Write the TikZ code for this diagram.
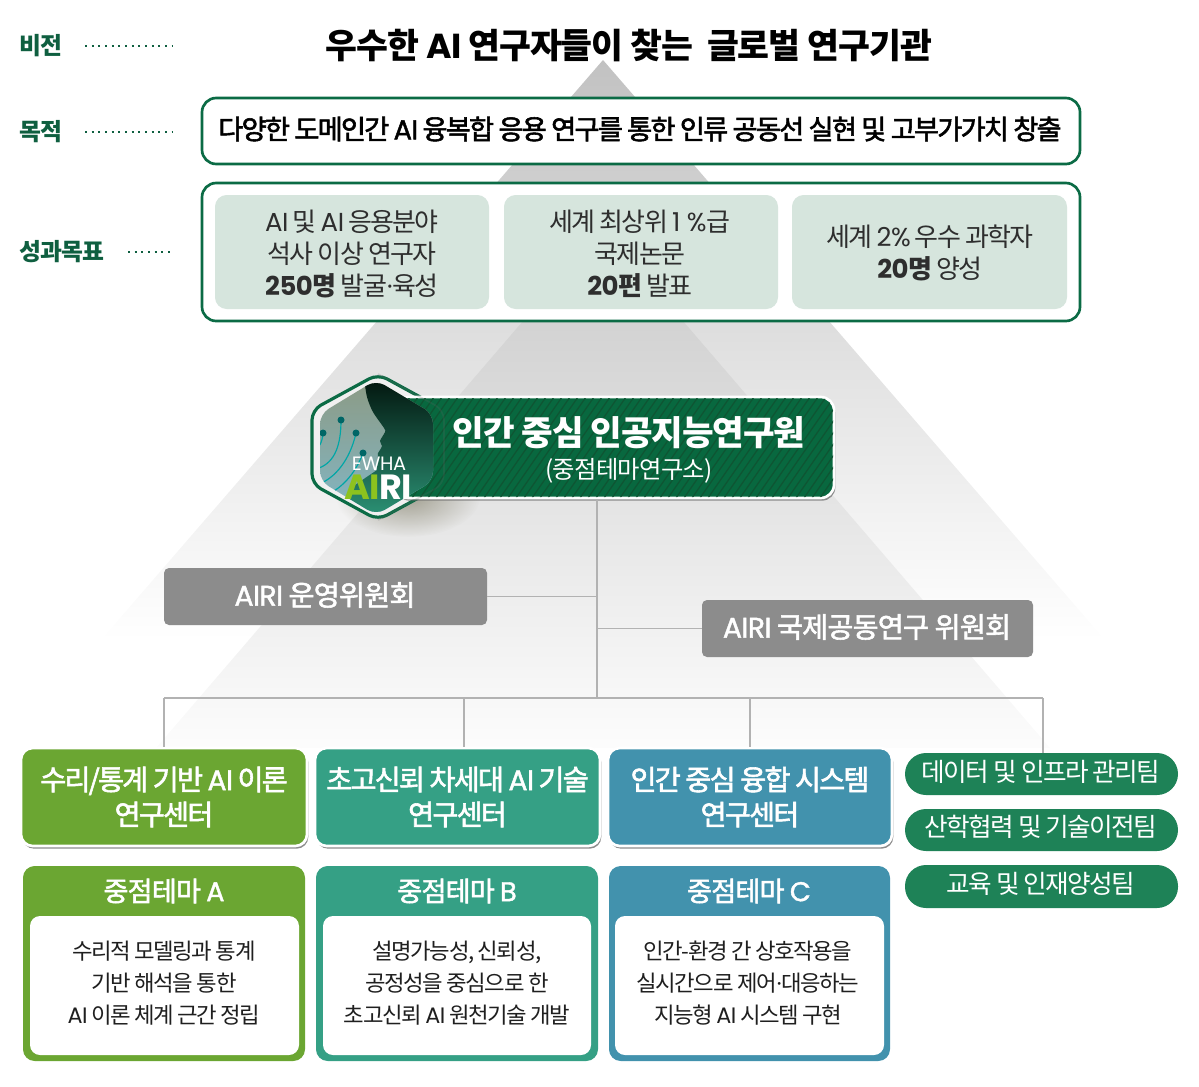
\documentclass[tikz,border=0pt]{standalone}
\usepackage{fontspec}
\usetikzlibrary{shadows,fadings,calc}
\setmainfont{Noto Sans CJK KR}[LetterSpace=-3]
\newfontfamily\tg{Noto Sans CJK KR}[LetterSpace=-6.5]
\newfontfamily\med{Noto Sans CJK KR}[FakeBold=2,LetterSpace=-3]
\newfontfamily\medt{Noto Sans CJK KR}[FakeBold=2,LetterSpace=-6.5]
\newfontfamily\lat{Poppins}[LetterSpace=-2]
\newfontfamily\latm{Poppins}[FakeBold=1.5,LetterSpace=-2]
\newcommand{\LL}[1]{{\lat #1}}
\newcommand{\LM}[1]{{\latm #1}}
\newcommand{\fs}[2]{\fontsize{#1pt}{#2pt}\selectfont}
\definecolor{airi}{HTML}{0B6B45}
\definecolor{bannerc}{HTML}{08683F}
\definecolor{hatchc}{HTML}{0F5533}
\definecolor{cardc}{HTML}{D6E5DD}
\definecolor{greyc}{HTML}{8C8C8C}
\definecolor{linec}{HTML}{B2B2B2}
\definecolor{pillc}{HTML}{1E8257}
\definecolor{ca}{HTML}{6BA632}
\definecolor{cb}{HTML}{35A085}
\definecolor{cc}{HTML}{4292AD}
\definecolor{labelc}{HTML}{0F5F40}
\definecolor{logotop}{HTML}{8C9A84}
\definecolor{logobot}{HTML}{82B7C6}
\definecolor{logogreen}{HTML}{8DC21F}
\tikzfading[name=softc,inner color=transparent!25,outer color=transparent!100]
\newcommand{\bx}[7]{%
  \pgfmathsetmacro\bxx{(#2+#4)/2}\pgfmathsetmacro\bxy{(#3+#5)/2}%
  \pgfmathsetmacro\bxw{(#4-#2)*0.6}\pgfmathsetmacro\bxh{(#5-#3)*0.6}%
  \node[#6,minimum width=\bxw pt,minimum height=\bxh pt,inner sep=0pt,align=center] (#1) at (\bxx,\bxy) {#7};}
\tikzset{
  goalbox/.style={draw=airi,line width=1.6pt,fill=white,rounded corners=8.5pt},
  card/.style={fill=cardc,rounded corners=7pt},
  cardtext/.style={text=black!82,align=center,inner sep=0pt,font=\tg\fs{15.6}{19.2}},
  sidelabel/.style={text=labelc,font=\bfseries\fs{14.3}{16}},
  dotline/.style={draw=labelc,line width=1.2pt,dash pattern=on 1.2pt off 2.8pt},
  greybox/.style={fill=greyc,rounded corners=3pt},
  greytext/.style={text=white,inner sep=0pt,font=\med\fs{17}{20}},
  wire/.style={draw=linec,line width=0.9pt},
  centerbox/.style={rounded corners=7pt,draw=white,line width=1.6pt,text=white,font=\medt\fs{17}{21},
     drop shadow={shadow xshift=0.8pt,shadow yshift=-1.6pt,fill=black!60,opacity=.75}},
  theme/.style={rounded corners=7pt},
  themebody/.style={fill=white,rounded corners=6pt},
  bodytext/.style={text=black!88,align=center,inner sep=0pt,font=\tg\fs{13.4}{19.2}},
  themehead/.style={text=white,font=\med\fs{16.3}{20}},
  pill/.style={fill=pillc,rounded corners=12.6pt},
  pilltext/.style={text=white,inner sep=0pt,font=\tg\fs{15.4}{19}},
}
\begin{document}
\begin{tikzpicture}[x=0.6pt,y=-0.6pt]
\useasboundingbox (0,0) rectangle (1199,1087);
% pyramids
\shade[top color=black!24,middle color=black!7,bottom color=white] (603,60) -- (1105,640) -- (101,640) -- cycle;
\shade[top color=black!21,middle color=black!7,bottom color=black!1] (603,228) -- (1050,748) -- (156,748) -- cycle;
% vision etc
\node[text=black,font=\bfseries\fs{20.8}{24}] (vision) at (629,46) {우수한 \LL{AI} 연구자들이 찾는~ 글로벌 연구기관};
\node[sidelabel] (l1) at (41,46) {비전};
\node[sidelabel] (l2) at (41,132) {목적};
\node[sidelabel] (l3) at (62,252) {성과목표};
\coordinate (e1) at (172,46);\coordinate (e2) at (172,132);\coordinate (e3) at (172,252);
\coordinate (s1) at (85,46);\coordinate (s2) at (85,132);\coordinate (s3) at (128,252);
\draw[dotline] (s1) -- (e1);
\draw[dotline] (s2) -- (e2);
\draw[dotline] (s3) -- (e3);
\bx{purpose}{202}{98}{1080}{164}{goalbox}{}
\node[text=black,inner sep=0pt,font=\medt\fs{16.35}{20}] (purposet) at (640,129) {다양한 도메인간 \LM{AI} 융복합 응용 연구를 통한 인류 공동선 실현 및 고부가가치 창출};
\bx{kpi}{202}{183}{1080}{321}{goalbox}{}
\bx{k1}{215}{195}{489}{309}{card}{}
\bx{k2}{504}{195}{778}{309}{card}{}
\bx{k3}{792}{195}{1067}{309}{card}{}
\node[cardtext] (k1t) at (352,254) {\LL{AI} 및 \LL{AI} 응용분야\\석사 이상 연구자\\{\bfseries\lat 250\rmfamily\bfseries 명} 발굴{\lat ·}육성};
\node[cardtext] (k2t) at (640,254) {세계 최상위 \LL{1 \%}급\\국제논문\\{\bfseries\lat 20\rmfamily\bfseries 편} 발표};
\node[cardtext] (k3t) at (930,253) {세계 \LL{2\%} 우수 과학자\\{\bfseries\lat 20\rmfamily\bfseries 명} 양성};
% connectors
\coordinate (bus) at (597,698);
\coordinate (busa) at (164,698);
\coordinate (busb) at (464,698);
\coordinate (busc) at (750,698);
\coordinate (busd) at (1043,698);
\bx{opc}{164}{568}{487}{625}{greybox}{}
\bx{intl}{702}{600}{1033}{657}{greybox}{}
\node[greytext] (opct) at (325,595) {\LM{AIRI} 운영위원회};
\node[greytext] (intlt) at (867,627) {\LM{AIRI} 국제공동연구 위원회};
\bx{pa}{905}{753}{1178}{795}{pill}{}
\bx{pb}{905}{809}{1178}{851}{pill}{}
\bx{pc}{905}{865}{1178}{908}{pill}{}
\node[pilltext] (pat) at (1041,772) {데이터 및 인프라 관리팀};
\node[pilltext] (pbt) at (1041,827) {산학협력 및 기술이전팀};
\node[pilltext] (pct) at (1041,884) {교육 및 인재양성팀};
\bx{ba}{21}{748}{307}{846}{centerbox,fill=ca}{수리/통계 기반 \LM{AI} 이론\\연구센터}
\bx{bb}{315}{748}{600}{846}{centerbox,fill=cb}{초고신뢰 차세대 \LM{AI} 기술\\연구센터}
\bx{bc}{608}{748}{892}{846}{centerbox,fill=cc}{인간 중심 융합 시스템\\연구센터}
\draw[wire] (busa) -- (busd);
\draw[wire] (bus) -- (bus|-intl.west) -- (intl.west);
\draw[wire] (opc.east) -- (opc.east-|bus);
\draw[wire] (busa) -- (busa|-ba.north);
\draw[wire] (busb) -- (busb|-bb.north);
\draw[wire] (busc) -- (busc|-bc.north);
\draw[wire] (busd) -- (busd|-pa.north);
% themes
\bx{ta}{23}{866}{305}{1061}{theme,fill=ca}{}
\bx{tb}{316}{866}{598}{1061}{theme,fill=cb}{}
\bx{tc}{609}{866}{890}{1061}{theme,fill=cc}{}
\node[themehead] (tah) at (164,891) {중점테마 \LM{A}};
\node[themehead] (tbh) at (457,891) {중점테마 \LM{B}};
\node[themehead] (tch) at (749,891) {중점테마 \LM{C}};
\bx{tab}{30}{916}{299}{1055}{themebody}{}
\bx{tbb}{323}{916}{591}{1055}{themebody}{}
\bx{tcb}{615}{916}{884}{1055}{themebody}{}
\node[bodytext] (tabt) at (164,983) {수리적 모델링과 통계\\기반 해석을 통한\\\LL{AI} 이론 체계 근간 정립};
\node[bodytext] (tbbt) at (457,983) {설명가능성, 신뢰성,\\공정성을 중심으로 한\\초고신뢰 \LL{AI} 원천기술 개발};
\node[bodytext] (tcbt) at (748,983) {인간-환경 간 상호작용을\\실시간으로 제어{\lat ·}대응하는\\지능형 \LL{AI} 시스템 구현};
% logo shadow
\fill[black!55!olive,opacity=.6,path fading=softc] (408,497) ellipse (72 and 40);
% logo ring
\draw[draw=airi,line width=1.9pt,fill=white!94!black,rounded corners=6pt] (378,374) -- (444,410) -- (444,484) -- (378,520) -- (312,484) -- (312,410) -- cycle;
% banner
\bx{banner}{395}{397}{834}{498}{rounded corners=8pt,draw=white,line width=1.6pt,fill=bannerc,drop shadow={shadow xshift=0.8pt,shadow yshift=-1.6pt,fill=black!60,opacity=.7}}{}
\draw[wire] (bus|-banner.south) -- (bus);
\begin{scope}
\clip[rounded corners=7.5pt] (396,398) rectangle (833,497);
\foreach \i in {340,348,...,840}{\draw[hatchc,line width=0.75pt] (\i,498) -- ($(\i,498)+(70,-101)$);}
\end{scope}
\draw[draw=black!60,opacity=.2,line width=1pt,rounded corners=6pt] (378,374) -- (444,410) -- (444,484) -- (378,520);
\node[text=white,font=\bfseries\fs{20.6}{24}] (bt) at (629,433) {인간 중심 인공지능연구원};
\node[text=white,font=\fs{14.6}{18}] (bs) at (629,471) {(중점테마연구소)};
% logo image
\begin{scope}
\clip[rounded corners=6pt] (376,380) -- (433,414) -- (433,481) -- (376,515) -- (320,481) -- (320,414) -- cycle;
\shade[top color=logotop,bottom color=logobot] (315,378) rectangle (440,518);
\shade[top color=black!80!airi,middle color=airi!85!black,bottom color=cb!80!airi] plot[smooth,tension=.5] coordinates {(364,378) (367,397) (373,412) (384,428) (385,432) (380,441) (382,446) (378,453)} -- (377,470) -- (352,487) -- (345,520) -- (440,520) -- (440,378) -- cycle;
\foreach \a/\b/\c/\d/\e/\f in {341/420/341/445/335/462,323/433/322/443/320/450,356/433/350/460/335/478,363/453/355/475/340/490}{
  \draw[teal!70!cyan,line width=0.7pt] (\a,\b) .. controls (\c,\d) and (\e,\f) .. ($(\e,\f)+(-16,6)$);
  \fill[teal!80!black] (\a,\b) circle (3.5);}
\end{scope}
\node[text=white,font=\lat\fs{11.6}{13}] (ewha) at (379,464) {EWHA};
\node[font=\lat\bfseries\fs{21}{24}] (airilogo) at (378,487) {\textcolor{logogreen}{AI}\textcolor{white}{RI}};
\end{tikzpicture}
\end{document}
